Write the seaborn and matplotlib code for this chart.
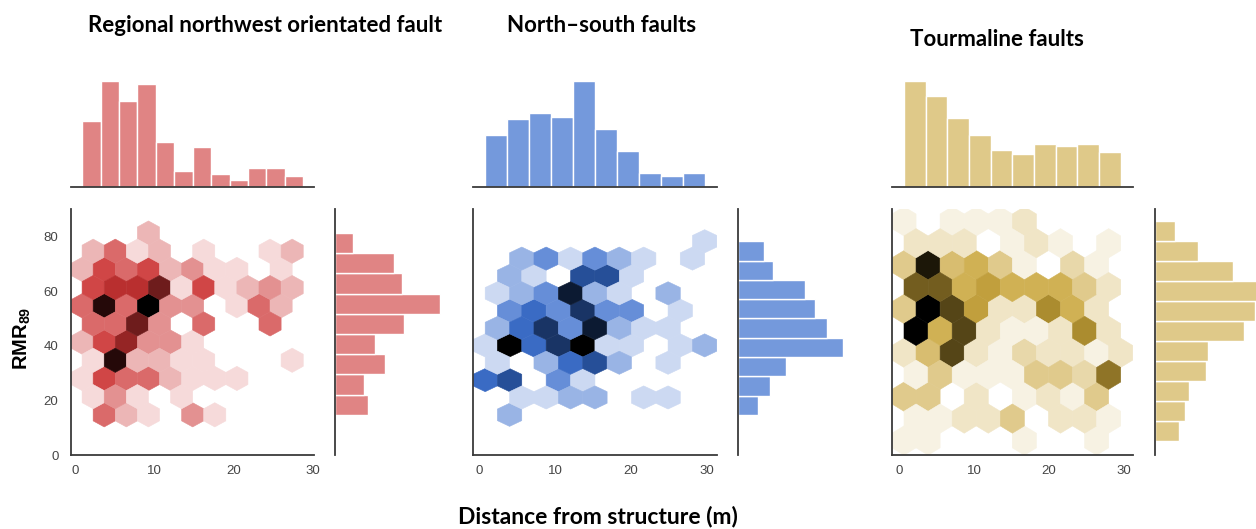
import numpy as np
import matplotlib.pyplot as plt
import seaborn as sns

sns.set_style('white')
plt.rcParams['font.family'] = ['Liberation Sans', 'DejaVu Sans']
plt.rcParams['mathtext.fontset'] = 'custom'
plt.rcParams['mathtext.rm'] = 'Liberation Sans'
plt.rcParams['mathtext.bf'] = 'Liberation Sans:bold'

# colours of the three fault sets
nw_color = '#e08484'
ns_color = '#7499dc'
tm_color = '#dfc989'

titles = ['Regional northwest orientated fault', 'North\u2013south faults', 'Tourmaline faults']
x_label = 'Distance from structure (m)'
y_label = r'RMR$_\mathbf{89}$'
dist_ticks = [0, 10, 20, 30]
rmr_ticks = [0, 20, 40, 60, 80]

# ---- regional northwest orientated fault ----
# hexbin cells: distance (m), RMR89, number of observations
nw_dist = [9.2,
           2.2, 5.0, 7.8, 10.6, 16.2, 24.6, 27.4,
           0.8, 3.6, 6.4, 9.2, 12.0, 14.8, 17.6, 20.4, 26.0,
           2.2, 5.0, 7.8, 10.6, 13.4, 16.2, 19.0, 21.8, 24.6, 27.4,
           0.8, 3.6, 6.4, 9.2, 12.0, 14.8, 20.4, 23.2, 26.0,
           2.2, 5.0, 7.8, 10.6, 16.2, 24.6,
           0.8, 3.6, 6.4, 9.2, 12.0, 14.8,
           2.2, 5.0, 7.8, 10.6, 13.4, 16.2, 27.4,
           0.8, 3.6, 6.4, 9.2, 12.0, 14.8, 17.6, 20.4,
           2.2, 5.0, 7.8, 13.4,
           3.6, 6.4, 9.2, 14.8, 17.6]
nw_rmr = [81.2] * 1 + [74.6] * 7 + [67.9] * 9 + [61.3] * 10 + [54.6] * 9 + \
         [48.0] * 6 + [41.3] * 6 + [34.7] * 7 + [28.0] * 8 + [21.4] * 4 + [14.7] * 5
nw_n = [2,
        2, 4, 1, 2, 1, 1, 2,
        2, 5, 4, 5, 2, 3, 1, 1, 1,
        5, 6, 6, 8, 1, 5, 1, 2, 3, 2,
        4, 10, 4, 11, 3, 3, 1, 4, 2,
        4, 4, 8, 3, 4, 4,
        2, 5, 7, 3, 3, 1,
        1, 10, 2, 2, 1, 1, 1,
        1, 5, 4, 4, 2, 1, 1, 1,
        1, 3, 1, 1,
        4, 2, 1, 3, 1]
nw_dist_range = [0.84, 28.74]
nw_rmr_range = [14.7, 81.2]
nw_grid = 10
nw_dist_hist = [30.0, 47.9, 38.9, 46.7, 20.6, 7.4, 18.0, 6.1, 3.0, 8.5, 8.5, 5.0]
nw_rmr_hist = [15.0, 13.2, 22.7, 18.0, 31.4, 47.6, 30.6, 26.8, 8.2]

# ---- north-south faults ----
ns_dist = [29.8,
           5.6, 8.8, 12.1, 15.3, 18.5, 21.7, 28.2,
           4.0, 7.2, 13.7, 16.9, 20.1,
           2.4, 5.6, 8.8, 12.1, 15.3, 18.5, 24.9,
           4.0, 7.2, 10.5, 13.7, 16.9, 20.1, 26.6,
           2.4, 5.6, 8.8, 12.1, 15.3, 18.5, 21.7, 24.9,
           0.8, 4.0, 7.2, 10.5, 13.7, 16.9, 20.1, 26.6, 29.8,
           2.4, 8.8, 12.1, 15.3, 18.5, 24.9,
           0.8, 4.0, 10.5, 13.7,
           5.6, 8.8, 12.1, 15.3, 21.7, 24.9,
           4.0]
ns_rmr = [78.2] * 1 + [71.9] * 7 + [65.5] * 5 + [59.2] * 7 + [52.8] * 7 + \
         [46.5] * 8 + [40.1] * 9 + [33.8] * 6 + [27.4] * 4 + [21.1] * 6 + [14.7] * 1
ns_n = [1,
        2, 3, 1, 3, 2, 1, 1,
        2, 1, 5, 5, 1,
        1, 2, 3, 7, 2, 1, 2,
        3, 4, 3, 6, 3, 3, 1,
        2, 4, 6, 3, 7, 2, 1, 1,
        1, 8, 4, 6, 8, 1, 1, 1, 2,
        1, 2, 4, 5, 2, 1,
        4, 5, 3, 1,
        1, 1, 2, 2, 1, 1,
        2]
ns_dist_range = [0.79, 29.77]
ns_rmr_range = [14.7, 78.2]
ns_grid = 9
ns_dist_hist = [23.5, 30.6, 33.3, 31.8, 47.7, 26.2, 16.4, 6.4, 5.0, 6.4]
ns_rmr_hist = [8.9, 14.4, 21.5, 47.0, 40.0, 34.4, 30.2, 15.9, 11.7]

# ---- tourmaline faults ----
tm_dist = [0.7, 7.1, 10.3, 13.5, 16.7,
           2.3, 5.5, 8.7, 15.1, 18.3, 21.5, 28.0,
           0.7, 3.9, 7.1, 10.3, 13.5, 16.7, 23.1, 26.4,
           2.3, 5.5, 8.7, 11.9, 15.1, 18.3, 21.5, 24.8, 28.0,
           0.7, 3.9, 7.1, 10.3, 13.5, 16.7, 19.9, 23.1, 26.4,
           2.3, 5.5, 8.7, 11.9, 15.1, 18.3, 21.5, 24.8, 28.0,
           0.7, 3.9, 7.1, 10.3, 13.5, 16.7, 19.9, 23.1, 26.4, 29.6,
           2.3, 5.5, 8.7, 11.9, 15.1, 18.3, 21.5, 24.8, 28.0,
           0.7, 3.9, 10.3, 16.7, 19.9, 23.1, 26.4,
           2.3, 5.5, 8.7, 11.9, 15.1, 21.5, 24.8, 28.0,
           0.7, 3.9, 16.7, 26.4]
tm_rmr = [85.5] * 5 + [77.5] * 7 + [69.5] * 8 + [61.4] * 9 + [53.4] * 9 + \
         [45.4] * 9 + [37.4] * 10 + [29.4] * 9 + [21.3] * 7 + [13.3] * 8 + [5.3] * 4
tm_n = [1, 1, 1, 1, 2,
        2, 2, 2, 1, 2, 1, 1,
        4, 13, 5, 6, 4, 1, 3, 1,
        10, 10, 6, 7, 6, 6, 6, 4, 2,
        4, 14, 11, 7, 2, 2, 8, 6, 2,
        14, 6, 11, 2, 1, 1, 2, 8, 2,
        2, 5, 11, 2, 1, 3, 2, 2, 1, 2,
        1, 4, 1, 1, 1, 4, 4, 3, 9,
        4, 4, 2, 1, 2, 1, 4,
        1, 1, 2, 2, 4, 2, 2, 1,
        1, 1, 1, 1]
tm_dist_range = [0.67, 29.56]
tm_rmr_range = [5.3, 85.5]
tm_grid = 9
tm_dist_hist = [47.7, 40.9, 31.1, 23.5, 16.7, 15.0, 19.4, 18.5, 19.4, 15.9]
tm_rmr_hist = [10.5, 13.2, 15.0, 22.6, 23.3, 39.4, 43.9, 46.2, 34.4, 18.9, 8.6]

W, H = 1256, 529
fig = plt.figure(figsize=(W / 100, H / 100), dpi=100)


def box(x0, y0, x1, y1):
    # pixel box measured from the top left -> figure fraction
    return [x0 / W, 1 - y1 / H, (x1 - x0) / W, (y1 - y0) / H]


def hex_cmap(color):
    # same idea as seaborn jointplot: white -> colour -> black
    cols = [sns.utils.set_hls_values(color, l=l) for l in np.linspace(1, 0, 12)]
    return sns.blend_palette(cols, as_cmap=True)


def style_spines(ax):
    for s in ax.spines.values():
        s.set_color('#3a3a3a')
        s.set_linewidth(1.3)


def fault_panel(x0, x1, side_x, dist, rmr, n, dist_range, rmr_range, grid,
                dist_hist, rmr_hist, color, xlim, show_y):
    ax = fig.add_axes(box(x0, 209, x1, 455))
    ax_top = fig.add_axes(box(x0, 76, x1, 187))
    ax_side = fig.add_axes(box(side_x, 209, side_x + 110, 455))

    ax.hexbin(dist, rmr, C=n, reduce_C_function=np.sum, gridsize=grid,
              extent=(dist_range[0], dist_range[1], rmr_range[0], rmr_range[1]),
              cmap=hex_cmap(color), vmin=0, vmax=max(n), linewidths=0.4)
    ax.set_xlim(xlim)
    ax.set_ylim(0, 90)
    ax.set_xticks(dist_ticks)
    ax.set_yticks(rmr_ticks)
    if not show_y:
        ax.set_yticklabels([])
    ax.tick_params(length=0, labelsize=9.5, labelcolor='#454545')
    ax.tick_params(axis='x', pad=7)
    ax.tick_params(axis='y', pad=9)
    sns.despine(ax=ax)
    style_spines(ax)

    # marginal histograms
    edges = np.linspace(dist_range[0], dist_range[1], len(dist_hist) + 1)
    sns.histplot(x=(edges[:-1] + edges[1:]) / 2, weights=dist_hist, bins=list(edges),
                 color=color, alpha=1, edgecolor='white', linewidth=1, ax=ax_top)
    ax_top.set_xlim(xlim)
    ax_top.set(xticks=[], yticks=[], xlabel='', ylabel='')
    sns.despine(ax=ax_top, left=True)
    style_spines(ax_top)

    edges = np.linspace(rmr_range[0], rmr_range[1], len(rmr_hist) + 1)
    sns.histplot(y=(edges[:-1] + edges[1:]) / 2, weights=rmr_hist, bins=list(edges),
                 color=color, alpha=1, edgecolor='white', linewidth=1, ax=ax_side)
    ax_side.set_ylim(0, 90)
    ax_side.set(xticks=[], yticks=[], xlabel='', ylabel='')
    sns.despine(ax=ax_side, bottom=True)
    style_spines(ax_side)
    return ax


fault_panel(71, 314, 335, nw_dist, nw_rmr, nw_n, nw_dist_range, nw_rmr_range, nw_grid,
            nw_dist_hist, nw_rmr_hist, nw_color, (-0.56, 30.1), True)
fault_panel(473, 717, 738, ns_dist, ns_rmr, ns_n, ns_dist_range, ns_rmr_range, ns_grid,
            ns_dist_hist, ns_rmr_hist, ns_color, (-0.82, 31.4), False)
fault_panel(892, 1133, 1155, tm_dist, tm_rmr, tm_n, tm_dist_range, tm_rmr_range, tm_grid,
            tm_dist_hist, tm_rmr_hist, tm_color, (-0.93, 31.2), False)

title_font = dict(family=['Lato', 'DejaVu Sans'], fontweight='bold', fontsize=16,
                  ha='center', va='baseline', color='black')
fig.text(265.5 / W, 1 - 32 / H, titles[0], **title_font)
fig.text(602 / W, 1 - 32 / H, titles[1], **title_font)
fig.text(997 / W, 1 - 45.5 / H, titles[2], **title_font)
fig.text(598 / W, 1 - 523.5 / H, x_label, **dict(title_font, fontsize=16.5))
fig.text(22 / W, 1 - 338 / H, y_label, rotation=90, ha='center', va='center',
         fontsize=14.5, fontweight='bold', color='black')

fig.savefig('out.png', dpi=100)
